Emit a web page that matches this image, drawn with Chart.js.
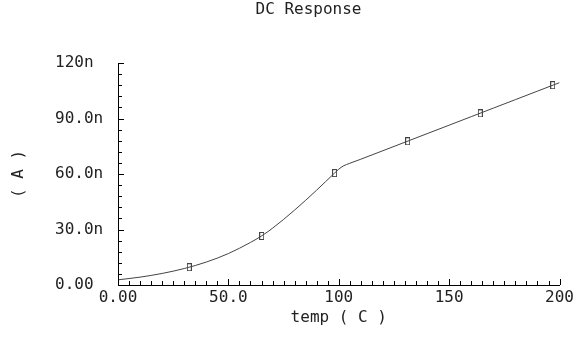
<!DOCTYPE html>
<html>
<head>
<meta charset="utf-8">
<script src="https://cdn.jsdelivr.net/npm/chart.js@4.4.1/dist/chart.umd.min.js"></script>
<style>
html,body{margin:0;padding:0;background:#fff;}
#wrap{width:577px;height:339px;}
</style>
</head>
<body>
<div id="wrap"><canvas id="c" width="577" height="339"></canvas></div>
<script>
// ---- data (temperature in C, current in nA) ----
const tempC = [0, 10, 20, 30, 40, 50, 60, 65, 70, 80, 90, 98, 100, 102, 105, 110, 120, 130, 140, 150, 160, 170, 180, 190, 200];
const currentNA = [2.8, 4.25, 6.25, 8.9, 12.4, 17.0, 23.0, 26.5, 30.7, 40.5, 51.3, 60.4, 62.6, 64.3, 65.8, 68.0, 72.6, 77.2, 81.8, 86.4, 91.0, 95.6, 100.2, 104.8, 109.4];
const markerTemp = [32.3, 65.1, 98.1, 131.2, 164.1, 196.9];
const markerNA = [9.6, 26.5, 60.5, 77.7, 92.8, 108.0];
const xTickLabels = ['0.00', '50.0', '100', '150', '200'];
const yTickLabels = ['0.00', '30.0n', '60.0n', '90.0n', '120n'];

const FONT = "'DejaVu Sans Mono', monospace";
const INK = '#222';

function markerImage() {
  const c = document.createElement('canvas');
  c.width = 5; c.height = 8;
  const g = c.getContext('2d');
  g.strokeStyle = '#444';
  g.lineWidth = 1;
  g.strokeRect(0.5, 0.5, 4, 7);
  return c;
}

const inwardTicks = {
  id: 'inwardTicks',
  afterDraw(chart) {
    const ctx = chart.ctx;
    const xs = chart.scales.x, ys = chart.scales.y;
    const a = chart.chartArea;
    ctx.save();
    ctx.strokeStyle = '#000';
    ctx.lineWidth = 1;
    ctx.beginPath();
    for (let v = 0; v <= 120; v += 6) {
      const y = Math.round(ys.getPixelForValue(v)) + 0.5;
      const len = (v % 30 === 0) ? 6 : 4;
      ctx.moveTo(a.left, y);
      ctx.lineTo(a.left + len, y);
    }
    for (let v = 0; v <= 200; v += 5) {
      const x = Math.round(xs.getPixelForValue(v)) + 0.5;
      const len = (v % 50 === 0) ? 6 : 4;
      ctx.moveTo(x, a.bottom);
      ctx.lineTo(x, a.bottom - len);
    }
    ctx.stroke();
    // y axis title
    ctx.fillStyle = INK;
    ctx.font = "16px " + FONT;
    ctx.textAlign = 'center';
    ctx.textBaseline = 'middle';
    ctx.translate(19, (a.top + a.bottom) / 2);
    ctx.rotate(-Math.PI / 2);
    ctx.fillText('( A )', 0, 0);
    ctx.restore();
  }
};

new Chart(document.getElementById('c'), {
  type: 'scatter',
  data: {
    datasets: [
      {
        data: tempC.map((t, i) => ({x: t, y: currentNA[i]})),
        showLine: true,
        borderColor: '#444',
        borderWidth: 1,
        pointRadius: 0,
        cubicInterpolationMode: 'monotone'
      },
      {
        data: markerTemp.map((t, i) => ({x: t, y: markerNA[i]})),
        showLine: false,
        pointStyle: markerImage(),
        pointRadius: 4
      }
    ]
  },
  plugins: [inwardTicks],
  options: {
    responsive: false,
    animation: false,
    devicePixelRatio: 1,
    layout: {padding: {left: 55, right: 15, top: 0, bottom: 0}},
    plugins: {
      legend: {display: false},
      tooltip: {enabled: false},
      title: {
        display: true,
        text: 'DC Response',
        color: INK,
        font: {family: FONT, size: 16, weight: 'normal'},
        padding: {top: 0, bottom: 43.8}
      }
    },
    scales: {
      x: {
        type: 'linear',
        min: 0, max: 200,
        afterFit: s => { s.height = 54; },
        ticks: {
          stepSize: 50,
          padding: 3,
          color: INK,
          font: {family: FONT, size: 16},
          maxRotation: 0,
          callback: (v) => xTickLabels[Math.round(v / 50)]
        },
        grid: {display: true, drawOnChartArea: false, drawTicks: false},
        border: {display: true, color: '#000', width: 1},
        title: {
          display: true,
          text: 'temp ( C )',
          color: INK,
          font: {family: FONT, size: 16},
          padding: {top: 0, bottom: 12}
        }
      },
      y: {
        type: 'linear',
        min: 0, max: 120,
        afterFit: s => { s.width = 63; },
        ticks: {
          stepSize: 30,
          crossAlign: 'far',
          color: INK,
          font: {family: FONT, size: 16},
          callback: (v) => yTickLabels[Math.round(v / 30)]
        },
        grid: {display: true, drawOnChartArea: false, drawTicks: false},
        border: {display: true, color: '#000', width: 1}
      }
    }
  }
});
</script>
</body>
</html>
